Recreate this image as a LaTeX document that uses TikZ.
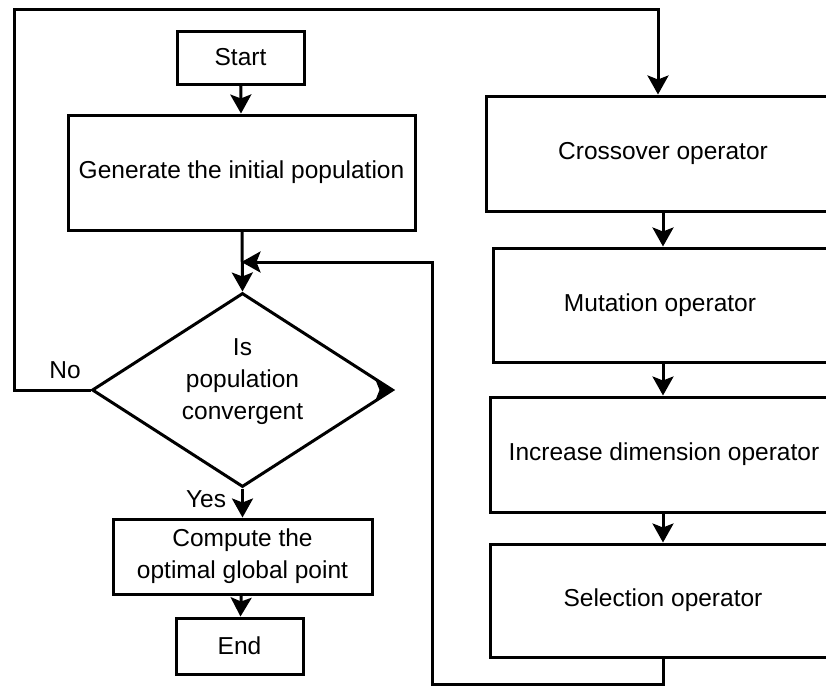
\documentclass[tikz,border=0pt]{standalone}
\usepackage{fontspec}
\setmainfont{Liberation Sans}
\usetikzlibrary{shapes.geometric,arrows.meta}
\begin{document}
\begin{tikzpicture}[x=0.5pt, y=-0.5pt, line width=1.5pt,
  box/.style={draw, rectangle, align=center, inner sep=0pt},
  arr/.style={-{Stealth[length=9.5pt, width=10.5pt, inset=2pt]}},
  every node/.style={font=\fontsize{12.25}{16}\selectfont}]
   \useasboundingbox (0, 0) rectangle (826, 686);
   \clip (0, 0) rectangle (826, 686);
   \node[box, minimum width=63.5pt, minimum height=26.5pt] (start) at (240.5, 57.5) {Start};
   \node[box, minimum width=173.5pt, minimum height=57.5pt] (gen) at (241.5, 172.5) {Generate the initial population};
   \node[draw, diamond, align=center, inner sep=0pt, minimum width=150.5pt, minimum height=97pt] (conv) at (242.5, 390) {};
   \node[align=center] (convtext) at (242.5, 382) {Is\\population\\convergent};
   \node[box, minimum width=129.5pt, minimum height=37.5pt] (comp) at (242.5, 556.5) {Compute the\\optimal global point};
   \node[box, minimum width=63.5pt, minimum height=28pt] (end) at (239.5, 646) {End};
   \node[box, minimum width=177pt, minimum height=57.5pt] (cross) at (663, 153.5) {Crossover operator};
   \node[box, minimum width=167pt, minimum height=57pt] (mut) at (660, 305) {Mutation operator};
   \node[box, minimum width=174pt, minimum height=57.5pt] (inc) at (664, 454.5) {Increase dimension operator};
   \node[box, minimum width=173pt, minimum height=56.5pt] (sel) at (663, 600.5) {Selection operator};
   \node (no) at (65, 370) {No};
   \node (yes) at (206, 499) {Yes};
   \coordinate (tl) at (14, 9);
   \coordinate (tr) at (658, 9);
   \coordinate (br) at (663, 684);
   \coordinate (bl) at (432, 684);
   \coordinate (bt) at (432, 262);
   \draw[arr] (start) -- (gen);
   \draw[arr] (gen) -- (conv.north);
   \draw[arr] (conv.south) -- (comp);
   \draw[arr] (comp) -- (end);
   \draw[arr] (conv.west) -| (tl) -- (tr) -- (tr |- cross.north);
   \draw[arr] (cross.south -| 663, 0) -- (mut.north -| 663, 0);
   \draw[arr] (mut.south -| 663, 0) -- (inc.north -| 663, 0);
   \draw[arr] (inc.south -| 663, 0) -- (sel.north -| 663, 0);
   \draw[arr] (sel.south) -- (br) -- (bl) -- (bt) -- (bt -| gen.south);
   \fill (conv.east) -- ++(-19, -10) -- ++(4, 10) -- ++(-4, 10) -- cycle;
  \end{tikzpicture}
\end{document}
